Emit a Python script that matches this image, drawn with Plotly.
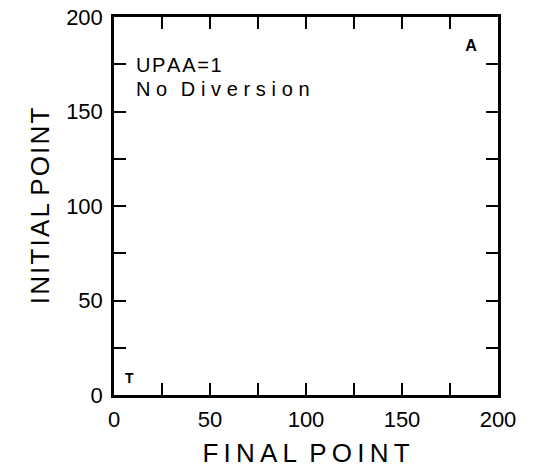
import plotly.graph_objects as go

# Point labels on the initial/final point plane
point_labels = ["T", "A"]
point_final = [8, 186]
point_initial = [8, 184]
point_sizes = [14, 16]

# Axis ticks
tick_vals = [0, 50, 100, 150, 200]
tick_text = ["0", "50", "100", "150", "200"]

# Case description
case_lines = ["UPAA=1", "No Diversion"]
case_gaps = ["\u200a", "\u2009\u200a"]
case_y = [174.5, 162]

FONT = "Liberation Sans, Arial, sans-serif"
THIN = "\u2009"
HAIR = "\u200a"
NBSP = "\u00a0"


def spaced(s, gap, word_sep=NBSP):
    """Letter-space each word of s; words are joined with word_sep."""
    return word_sep.join(gap.join(word) for word in s.split(" "))


fig = go.Figure()
for lbl, xv, yv, sz in zip(point_labels, point_final, point_initial, point_sizes):
    fig.add_trace(go.Scatter(
        x=[xv], y=[yv], text=[lbl], mode="text",
        textfont=dict(family=FONT, size=sz, color="black", weight="bold"),
        textposition="middle center", showlegend=False, hoverinfo="skip",
    ))

axis_common = dict(
    range=[0, 200], tickmode="array", tickvals=tick_vals, ticktext=tick_text,
    ticks="inside", ticklen=12, tickwidth=2, tickcolor="black",
    minor=dict(dtick=25, tick0=0, ticks="inside", ticklen=12, tickwidth=2, tickcolor="black"),
    showline=True, linewidth=2.5, linecolor="black", mirror="allticks",
    showgrid=False, zeroline=False, automargin=False,
    tickfont=dict(family=FONT, size=22, color="black"),
)

fig.update_xaxes(**axis_common, ticklabelstandoff=3,
                 title=dict(text=spaced("FINAL POINT", THIN, NBSP + THIN),
                            font=dict(family=FONT, size=26, color="black"), standoff=14))
fig.update_yaxes(**axis_common, ticklabelstandoff=4,
                 title=dict(text=spaced("INITIAL POINT", HAIR),
                            font=dict(family=FONT, size=26, color="black"), standoff=10))

for line, gap, yv in zip(case_lines, case_gaps, case_y):
    fig.add_annotation(x=11, y=yv, xref="x", yref="y",
                       text=spaced(line, gap, THIN + NBSP + THIN),
                       showarrow=False, xanchor="left", yanchor="middle",
                       borderpad=0,
                       font=dict(family=FONT, size=20, color="black"))

fig.update_layout(
    width=537, height=468,
    margin=dict(l=114, r=39, t=17, b=73),
    plot_bgcolor="white", paper_bgcolor="white",
)

fig.write_html("out.html")
